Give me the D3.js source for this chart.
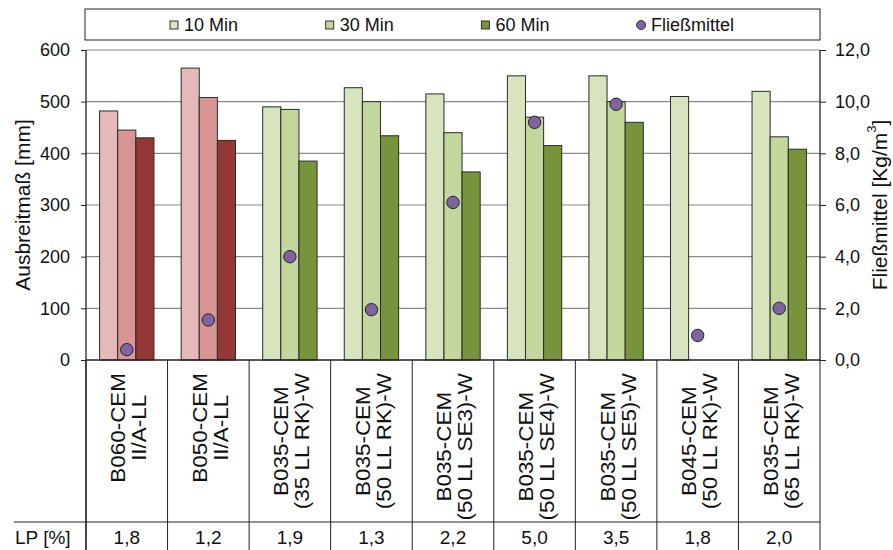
<!DOCTYPE html>
<html>
<head>
<meta charset="utf-8">
<script src="https://cdn.jsdelivr.net/npm/d3@7"></script>
<style>
  html, body { margin: 0; padding: 0; background: #fff; }
  svg { display: block; font-family: "Liberation Sans", Arial, sans-serif; }
</style>
</head>
<body>
<svg id="chart" width="893" height="550"></svg>
<script>
// Mix designs (two-line labels)
const categories = [
  ["B060-CEM", "II/A-LL"],
  ["B050-CEM", "II/A-LL"],
  ["B035-CEM", "(35 LL RK)-W"],
  ["B035-CEM", "(50 LL RK)-W"],
  ["B035-CEM", "(50 LL SE3)-W"],
  ["B035-CEM", "(50 LL SE4)-W"],
  ["B035-CEM", "(50 LL SE5)-W"],
  ["B045-CEM", "(50 LL RK)-W"],
  ["B035-CEM", "(65 LL RK)-W"]
];
// Slump flow [mm] after 10, 30 and 60 minutes
const flow10 = [482, 565, 490, 527, 515, 550, 550, 510, 520];
const flow30 = [445, 508, 485, 500, 440, 470, 500, null, 432];
const flow60 = [430, 425, 385, 434, 364, 415, 460, null, 408];
// Superplasticizer dosage [kg/m³]
const fliessmittel = [0.4, 1.55, 4.0, 1.95, 6.1, 9.2, 9.9, 0.95, 2.0];
// Air content LP [%]
const lpValues = ["1,8", "1,2", "1,9", "1,3", "2,2", "5,0", "3,5", "1,8", "2,0"];
// Series names and tick values
const seriesNames = ["10 Min", "30 Min", "60 Min"];
const pointName = "Fließmittel";
const leftTicks = [0, 100, 200, 300, 400, 500, 600];
const rightTicks = [0, 2, 4, 6, 8, 10, 12];

const greenFill = ["#D7E4BD", "#C3D69B", "#77933C"];
const redFill = ["#E6B9B8", "#D99594", "#953735"];
const dotFill = "#8064A2";

const svg = d3.select("#chart");
const L = 86, R = 820, T = 50, B = 360;
const tableLine = 522, bottom = 550;

const x = d3.scaleBand().domain(d3.range(categories.length)).range([L, R]).paddingInner(0).paddingOuter(0);
const xs = d3.scaleBand().domain([0, 1, 2]).range([0, x.bandwidth()]).paddingInner(0).paddingOuter(0.75);
const y = d3.scaleLinear().domain([0, 600]).range([B, T]);
const y2 = d3.scaleLinear().domain([0, 12]).range([B, T]);

const comma1 = v => d3.format(".1f")(v).replace(".", ",");

// Gridlines
svg.append("g").selectAll("line").data(leftTicks.filter(d => d > 0)).join("line")
  .attr("x1", L).attr("x2", R).attr("y1", d => y(d)).attr("y2", d => y(d))
  .attr("stroke", "#8a8a8a").attr("stroke-width", 1.2);

// Bars
const series = [flow10, flow30, flow60];
const isRed = i => categories[i][1] === "II/A-LL";
const barG = svg.append("g");
series.forEach((vals, s) => {
  barG.append("g").selectAll("rect")
    .data(vals.map((v, i) => ({ v, i })).filter(d => d.v != null))
    .join("rect")
    .attr("x", d => x(d.i) + xs(s))
    .attr("width", xs.bandwidth())
    .attr("y", d => y(d.v))
    .attr("height", d => y(0) - y(d.v))
    .attr("fill", d => (isRed(d.i) ? redFill : greenFill)[s])
    .attr("stroke", "#2b2b2b").attr("stroke-width", 1);
});

// Axes
const axL = svg.append("g").attr("transform", `translate(${L},0)`)
  .call(d3.axisLeft(y).tickValues(leftTicks).tickSize(5).tickPadding(11).tickFormat(d3.format("d")));
const axR = svg.append("g").attr("transform", `translate(${R},0)`)
  .call(d3.axisRight(y2).tickValues(rightTicks).tickSize(6).tickPadding(9).tickFormat(comma1));
[axL, axR].forEach(a => {
  a.select(".domain").remove();
  a.selectAll("line").attr("stroke", "#222");
  a.selectAll("text").attr("font-size", 18).attr("fill", "#111").attr("font-family", "Liberation Sans, Arial, sans-serif");
});
// axis lines
svg.append("line").attr("x1", L).attr("x2", L).attr("y1", T).attr("y2", bottom).attr("stroke", "#222").attr("stroke-width", 1.3);
svg.append("line").attr("x1", R).attr("x2", R).attr("y1", T).attr("y2", B).attr("stroke", "#222").attr("stroke-width", 1.3);
svg.append("line").attr("x1", L).attr("x2", R).attr("y1", B).attr("y2", B).attr("stroke", "#222").attr("stroke-width", 1.3);

// Dots (right axis)
svg.append("g").selectAll("circle").data(fliessmittel).join("circle")
  .attr("cx", (d, i) => x(i) + x.bandwidth() / 2)
  .attr("cy", d => y2(d))
  .attr("r", 6.2)
  .attr("fill", dotFill).attr("stroke", "#222").attr("stroke-width", 1);

// Table below the plot
const table = svg.append("g");
d3.range(categories.length + 1).forEach(i => {
  const xx = i < categories.length ? x(i) : R;
  table.append("line").attr("x1", xx).attr("x2", xx).attr("y1", B).attr("y2", bottom)
    .attr("stroke", "#222").attr("stroke-width", 1);
});
table.append("line").attr("x1", 14).attr("x2", R).attr("y1", tableLine).attr("y2", tableLine)
  .attr("stroke", "#222").attr("stroke-width", 1);

// Category labels, rotated, block top-aligned, lines centred against each other
const labelTop = 373, pitch = 21, stretch = 1.15;
categories.forEach((lines, i) => {
  const cx = x(i) + x.bandwidth() / 2 + 2;
  const g = table.append("g");
  const texts = lines.map((t, k) => g.append("text").text(t)
    .attr("font-size", 19.5).attr("fill", "#111").attr("text-anchor", "middle")
    .attr("dominant-baseline", "central"));
  const maxLen = d3.max(texts, t => t.node().getComputedTextLength()) * stretch;
  const cy = labelTop + maxLen / 2;
  texts.forEach((t, k) => {
    const lx = cx + (k - (lines.length - 1) / 2) * pitch;
    t.attr("transform", `translate(${lx},${cy}) rotate(-90) scale(${stretch},1)`);
  });
});

// LP row
table.append("text").text("LP [%]").attr("x", 15).attr("y", 544)
  .attr("font-size", 19).attr("fill", "#111");
table.append("g").selectAll("text").data(lpValues).join("text")
  .attr("x", (d, i) => x(i) + x.bandwidth() / 2).attr("y", 544)
  .attr("text-anchor", "middle").attr("font-size", 19).attr("fill", "#111")
  .text(d => d);

// Axis titles
svg.append("text").text("Ausbreitmaß [mm]")
  .attr("transform", `translate(22,${(T + B) / 2}) rotate(-90)`)
  .attr("text-anchor", "middle").attr("dominant-baseline", "central")
  .attr("font-size", 21).attr("fill", "#111");
const rt = svg.append("text")
  .attr("transform", `translate(879,${(T + B) / 2}) rotate(-90)`)
  .attr("text-anchor", "middle").attr("dominant-baseline", "central")
  .attr("font-size", 21).attr("fill", "#111");
rt.append("tspan").text("Fließmittel [Kg/m");
rt.append("tspan").text("3").attr("font-size", 13).attr("dy", -8);
rt.append("tspan").text("]").attr("dy", 8);

// Legend
const legend = svg.append("g");
legend.append("rect").attr("x", 85).attr("y", 9).attr("width", R - 85).attr("height", 31)
  .attr("fill", "#fff").attr("stroke", "#222").attr("stroke-width", 1);
const legendItems = seriesNames.map((n, k) => ({ name: n, fill: greenFill[k], type: "rect" }))
  .concat([{ name: pointName, fill: dotFill, type: "circle" }]);
const lx0 = 170, lstep = 155.7, ly = 25;
legendItems.forEach((it, k) => {
  const gx = lx0 + k * lstep;
  if (it.type === "rect") {
    legend.append("rect").attr("x", gx).attr("y", ly - 4).attr("width", 8).attr("height", 8)
      .attr("fill", it.fill).attr("stroke", "#333").attr("stroke-width", 1);
  } else {
    legend.append("circle").attr("cx", gx + 4).attr("cy", ly).attr("r", 4.5)
      .attr("fill", it.fill).attr("stroke", "#333").attr("stroke-width", 1);
  }
  legend.append("text").text(it.name).attr("x", gx + 14).attr("y", ly)
    .attr("dominant-baseline", "central").attr("font-size", 18).attr("fill", "#111");
});
</script>
</body>
</html>
